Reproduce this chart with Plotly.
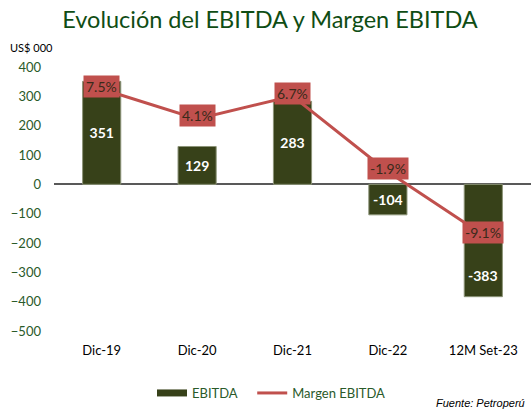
import plotly.graph_objects as go

categories = ["Dic-19", "Dic-20", "Dic-21", "Dic-22", "12M Set-23"]
ebitda = [351, 129, 283, -104, -383]
margen = [7.5, 4.1, 6.7, -1.9, -9.1]
y_ticks = [400, 300, 200, 100, 0, -100, -200, -300, -400, -500]

BAR = "#374119"
RED = "#C0504D"
GREEN_TXT = "#2a5a2a"

W, H = 531, 409
L, R, T, B = 54, 0, 67, 78
PW, PH = W - L - R, H - T - B

fig = go.Figure()

bar_text = [f"<b>{v}</b>" for v in ebitda]
text_pos = ["inside"] * (len(ebitda) - 1) + ["none"]
fig.add_trace(go.Bar(
    x=categories, y=ebitda, name="EBITDA", showlegend=False,
    marker=dict(color=BAR, line=dict(color="#8c9478", width=1)),
    width=0.4,
    text=bar_text, textposition=text_pos, insidetextanchor="middle",
    textfont=dict(color="white", size=14, family="Lato"),
    textangle=0,
))
# legend swatch for the bars (wide rectangle like the original)
fig.add_trace(go.Scatter(
    x=[None], y=[None], name="EBITDA\u00a0\u00a0\u00a0", mode="lines",
    line=dict(color=BAR, width=7), showlegend=True,
))
fig.add_trace(go.Scatter(
    x=categories, y=margen, name="Margen EBITDA", yaxis="y2",
    mode="lines", line=dict(color=RED, width=3),
))

annotations = []
annotations.append(dict(
    x=categories[-1], y=ebitda[-1], xref="x", yref="y",
    text=f"<b>{ebitda[-1]}</b>", showarrow=False, yanchor="bottom", yshift=11,
    font=dict(color="white", size=14, family="Lato"),
))
for c, m in zip(categories, margen):
    annotations.append(dict(
        x=c, y=m, xref="x", yref="y2", text=f"{m:.1f}%", showarrow=False,
        bgcolor=RED, borderpad=2, yshift=3,
        font=dict(color="#3a2a1a", size=14, family="Lato"),
    ))
annotations.append(dict(
    x=(8 - L) / PW, y=(H - 47 - B) / PH, xref="paper", yref="paper",
    text="US$ 000", showarrow=False,
    xanchor="left", yanchor="middle", font=dict(color="black", size=11, family="Lato"),
))
annotations.append(dict(
    x=(527 - L) / PW, y=(H - 403 - B) / PH, xref="paper", yref="paper",
    text="<i>Fuente: Petroperú</i>", showarrow=False,
    xanchor="right", yanchor="middle", font=dict(color="black", size=11, family="Liberation Sans"),
))

fig.update_layout(
    width=W, height=H,
    margin=dict(l=L, r=R, t=T, b=B),
    paper_bgcolor="white", plot_bgcolor="white",
    title=dict(text="Evolución del EBITDA y Margen EBITDA", x=(270 - L) / PW, xref="paper",
               xanchor="center", y=1 - 20 / H, yanchor="middle",
               font=dict(family="Lato", size=23.5, color="#0f4d14")),
    font=dict(family="Lato"),
    xaxis=dict(showgrid=False, showline=False, zeroline=False, ticks="",
               tickfont=dict(color="black", size=13, family="Lato"),
               ticklabelstandoff=10, automargin=False),
    yaxis=dict(range=[-500, 400], tickvals=y_ticks, showgrid=False,
               zeroline=True, zerolinecolor="#595959", zerolinewidth=1.5,
               showline=False, tickfont=dict(color=GREEN_TXT, size=13, family="Lato"),
               ticklabelstandoff=12, automargin=False),
    yaxis2=dict(range=[-20, 10], overlaying="y", side="right", visible=False,
                showgrid=False, zeroline=False),
    legend=dict(orientation="h", x=(152 - L) / PW, xanchor="left",
                y=(H - 393 - B) / PH, yanchor="middle",
                font=dict(color=GREEN_TXT, size=13, family="Lato"),
                itemwidth=30, tracegroupgap=0),
    annotations=annotations,
    showlegend=True,
)

fig.write_html("out.html", config={"displayModeBar": False},
               post_script="document.body.style.margin='0';")
